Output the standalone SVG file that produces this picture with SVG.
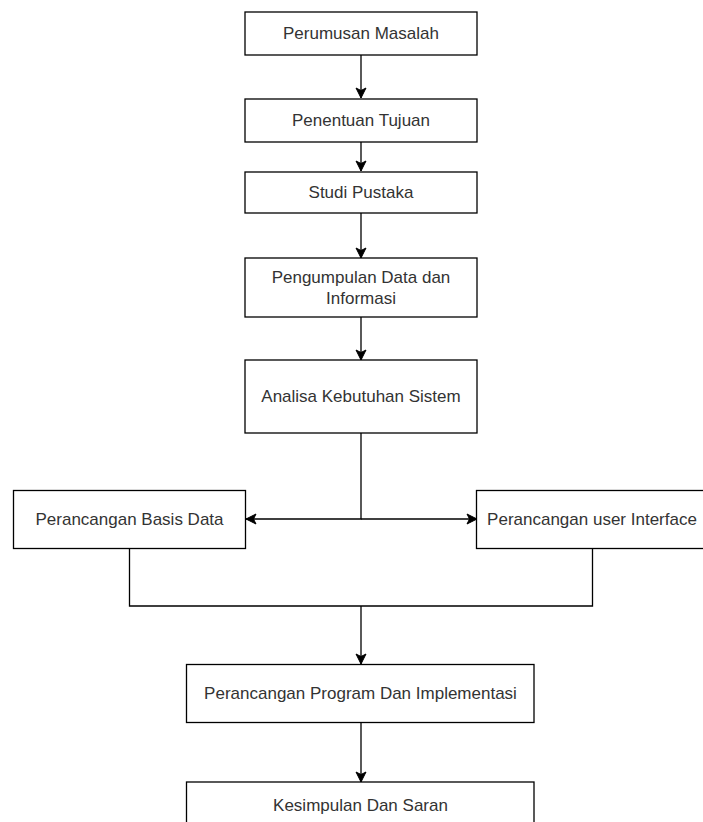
<svg xmlns="http://www.w3.org/2000/svg" width="703" height="822" viewBox="0 0 703 822">
<style>
.box{fill:#ffffff;stroke:#000000;stroke-width:1.3}
.lbl{font-family:"Liberation Sans",Arial,sans-serif;font-size:17px;fill:#333333;text-anchor:middle;dominant-baseline:central}
.edge{fill:none;stroke:#000000;stroke-width:1.3}
</style>
<defs>
<marker id="arr" markerUnits="userSpaceOnUse" markerWidth="12" markerHeight="12" viewBox="0 0 12 12" refX="11" refY="6" orient="auto">
<path d="M1,1 L11,6 L1,11 L3.5,6 Z" fill="#000000" stroke="#000000" stroke-width="1"/>
</marker>
</defs>
<rect width="703" height="822" fill="#ffffff"/>
<g id="connectors">
<path class="edge" d="M361,55 L361,98" marker-end="url(#arr)"/>
<path class="edge" d="M361,142 L361,171" marker-end="url(#arr)"/>
<path class="edge" d="M361,213 L361,258" marker-end="url(#arr)"/>
<path class="edge" d="M361,317 L361,360" marker-end="url(#arr)"/>
<path class="edge" d="M361,433 L361,519 L246,519" marker-end="url(#arr)"/>
<path class="edge" d="M361,519 L477,519" marker-end="url(#arr)"/>
<path class="edge" d="M129.5,549 L129.5,606 L592.5,606 L592.5,549"/>
<path class="edge" d="M361,606 L361,664" marker-end="url(#arr)"/>
<path class="edge" d="M361,722 L361,782" marker-end="url(#arr)"/>
</g>
<g id="n1"><rect class="box" x="245" y="12" width="232" height="43"/><text class="lbl" x="361" y="33.5">Perumusan Masalah</text></g>
<g id="n2"><rect class="box" x="245" y="99" width="232" height="43"/><text class="lbl" x="361" y="120.5">Penentuan Tujuan</text></g>
<g id="n3"><rect class="box" x="245" y="172" width="232" height="41"/><text class="lbl" x="361" y="192.5">Studi Pustaka</text></g>
<g id="n4"><rect class="box" x="245" y="258" width="232" height="59"/><text class="lbl" x="361" y="277">Pengumpulan Data dan</text><text class="lbl" x="361" y="298">Informasi</text></g>
<g id="n5"><rect class="box" x="245" y="360" width="232" height="73"/><text class="lbl" x="361" y="396.5">Analisa Kebutuhan Sistem</text></g>
<g id="n6"><rect class="box" x="13.5" y="490.5" width="232" height="58"/><text class="lbl" x="129.5" y="519.5">Perancangan Basis Data</text></g>
<g id="n7"><rect class="box" x="476.5" y="490.5" width="232" height="58"/><text class="lbl" x="592" y="519.5">Perancangan user Interface</text></g>
<g id="n8"><rect class="box" x="186.5" y="664.5" width="347.5" height="58"/><text class="lbl" x="360.5" y="693.5">Perancangan Program Dan Implementasi</text></g>
<g id="n9"><rect class="box" x="186.5" y="782" width="347.5" height="58"/><text class="lbl" x="360.5" y="805">Kesimpulan Dan Saran</text></g>
</svg>
